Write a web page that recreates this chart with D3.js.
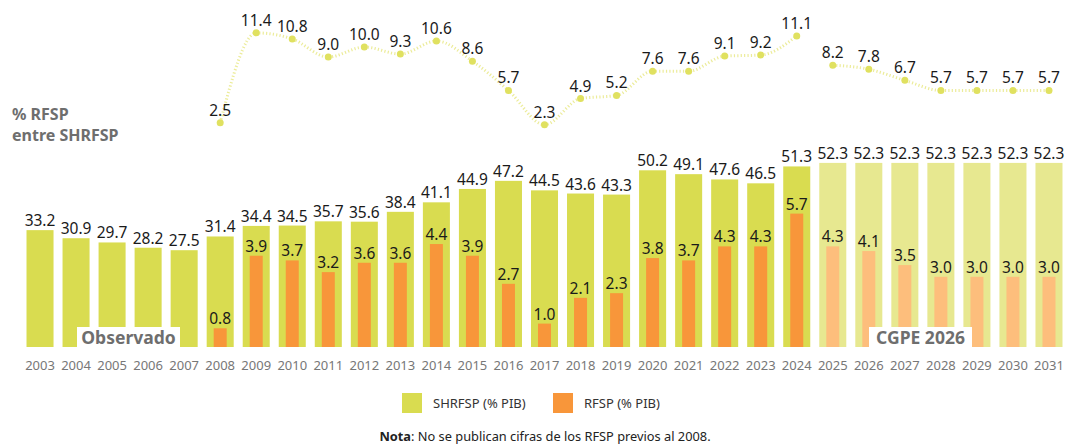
<!DOCTYPE html>
<html>
<head>
<meta charset="utf-8">
<script src="https://cdn.jsdelivr.net/npm/d3@7"></script>
<style>
  body { margin: 0; background: #fff; }
  svg { font-family: "Noto Sans", sans-serif; }
</style>
</head>
<body>
<script>
const years = ['2003','2004','2005','2006','2007','2008','2009','2010','2011','2012','2013','2014','2015','2016','2017','2018','2019','2020','2021','2022','2023','2024','2025','2026','2027','2028','2029','2030','2031'];
const shrfsp = [33.2,30.9,29.7,28.2,27.5,31.4,34.4,34.5,35.7,35.6,38.4,41.1,44.9,47.2,44.5,43.6,43.3,50.2,49.1,47.6,46.5,51.3,52.3,52.3,52.3,52.3,52.3,52.3,52.3];
const rfsp = [null,null,null,null,null,0.8,3.9,3.7,3.2,3.6,3.6,4.4,3.9,2.7,1.0,2.1,2.3,3.8,3.7,4.3,4.3,5.7,4.3,4.1,3.5,3.0,3.0,3.0,3.0];
const ratio = [null,null,null,null,null,2.5,11.4,10.8,9.0,10.0,9.3,10.6,8.6,5.7,2.3,4.9,5.2,7.6,7.6,9.1,9.2,11.1,8.2,7.8,6.7,5.7,5.7,5.7,5.7];
const firstProjected = '2025';

const width = 1070, height = 446;
const base = 347;

const svg = d3.select('body').append('svg')
  .attr('width', width)
  .attr('height', height);

let x = d3.scaleBand()
  .domain(years)
  .range([22, 1067])
  .paddingInner(0.25)
  .paddingOuter(0.125);

let yBar = d3.scaleLinear().domain([0, 60]).range([base, base - 211.2]);
let yRfsp = d3.scaleLinear().domain([0, 10]).range([base, base - 234]);
let yLine = d3.scaleLinear().domain([0, 12]).range([148, 148 - 121.2]);

const rows = years.map((y, i) => ({ year: y, s: shrfsp[i], r: rfsp[i], p: ratio[i], proj: +y >= +firstProjected }));

// SHRFSP bars
svg.append('g').selectAll('rect')
  .data(rows)
  .enter().append('rect')
  .attr('x', d => x(d.year))
  .attr('y', d => yBar(d.s))
  .attr('width', x.bandwidth())
  .attr('height', d => base - yBar(d.s))
  .attr('fill', d => d.proj ? '#e7e890' : '#d9dc50');

// RFSP bars
const rw = 13;
svg.append('g').selectAll('rect')
  .data(rows.filter(d => d.r != null))
  .enter().append('rect')
  .attr('x', d => x(d.year) + x.bandwidth() / 2 - rw / 2)
  .attr('y', d => yRfsp(d.r))
  .attr('width', rw)
  .attr('height', d => base - yRfsp(d.r))
  .attr('fill', d => d.proj ? '#fdbe7c' : '#f8963a');

// bar labels
svg.append('g').selectAll('text')
  .data(rows)
  .enter().append('text')
  .attr('x', d => x(d.year) + x.bandwidth() / 2)
  .attr('y', d => yBar(d.s) - 4)
  .attr('text-anchor', 'middle')
  .attr('font-size', 15.5)
  .attr('fill', '#1a1a1a')
  .text(d => d.s.toFixed(1));

svg.append('g').selectAll('text')
  .data(rows.filter(d => d.r != null))
  .enter().append('text')
  .attr('x', d => x(d.year) + x.bandwidth() / 2)
  .attr('y', d => yRfsp(d.r) - 4)
  .attr('text-anchor', 'middle')
  .attr('font-size', 15.5)
  .attr('fill', '#1a1a1a')
  .text(d => d.r.toFixed(1));

// boxes over the bars
const boxes = [
  { text: 'Observado', x0: 77, x1: 180 },
  { text: 'CGPE 2026', x0: 869, x1: 972 }
];
boxes.forEach(b => {
  svg.append('rect')
    .attr('x', b.x0).attr('y', 327)
    .attr('width', b.x1 - b.x0).attr('height', 20)
    .attr('fill', '#fff');
  svg.append('text')
    .attr('x', (b.x0 + b.x1) / 2).attr('y', 344)
    .attr('text-anchor', 'middle')
    .attr('font-size', 17.5).attr('font-weight', 'bold')
    .attr('fill', '#6e6e6e')
    .text(b.text);
});

// x axis labels
let xAxis = d3.axisBottom(x).tickSize(0).tickPadding(0);
let gx = svg.append('g')
  .attr('transform', `translate(0,${base + 14})`)
  .call(xAxis);
gx.select('.domain').remove();
gx.selectAll('text')
  .attr('font-size', 13)
  .attr('font-family', '"Noto Sans", sans-serif')
  .attr('fill', '#777');

// ratio line, broken between observed and projected
const cx = d => x(d.year) + x.bandwidth() / 2;
let line = d3.line()
  .defined(d => d.p != null)
  .curve(d3.curveMonotoneX)
  .x(cx)
  .y(d => yLine(d.p));

const obs = rows.filter(d => d.p != null && !d.proj);
const proj = rows.filter(d => d.p != null && d.proj);
[obs, proj].forEach(seg => {
  svg.append('path')
    .datum(seg)
    .attr('d', line)
    .attr('fill', 'none')
    .attr('stroke', '#ecec9a')
    .attr('stroke-width', 3)
    .attr('stroke-dasharray', '1.2,2.2');
});

const pts = rows.filter(d => d.p != null);
svg.append('g').selectAll('circle')
  .data(pts)
  .enter().append('circle')
  .attr('cx', cx)
  .attr('cy', d => yLine(d.p))
  .attr('r', 3.5)
  .attr('fill', '#e0e160');

svg.append('g').selectAll('text')
  .data(pts)
  .enter().append('text')
  .attr('x', cx)
  .attr('y', d => yLine(d.p) - 7)
  .attr('text-anchor', 'middle')
  .attr('font-size', 15.5)
  .attr('fill', '#1a1a1a')
  .text(d => d.p.toFixed(1));

// line title, two separate lines
const titleLines = ['% RFSP', 'entre SHRFSP'];
svg.append('g').selectAll('text')
  .data(titleLines)
  .enter().append('text')
  .attr('x', 12)
  .attr('y', (d, i) => 120 + i * 21)
  .attr('font-size', 16)
  .attr('font-weight', 'bold')
  .attr('fill', '#6e6e6e')
  .text(d => d);

// legend
const legend = [
  { label: 'SHRFSP (% PIB)', color: '#d9dc50', x: 402 },
  { label: 'RFSP (% PIB)', color: '#f8963a', x: 553 }
];
legend.forEach(l => {
  svg.append('rect')
    .attr('x', l.x).attr('y', 393)
    .attr('width', 20).attr('height', 20)
    .attr('fill', l.color);
  svg.append('text')
    .attr('x', l.x + 31).attr('y', 408)
    .attr('font-size', 13)
    .attr('fill', '#333')
    .text(l.label);
});

// note
let note = svg.append('text')
  .attr('x', 545).attr('y', 441)
  .attr('text-anchor', 'middle')
  .attr('font-size', 12.8)
  .attr('fill', '#222');
note.append('tspan').attr('font-weight', 'bold').text('Nota');
note.append('tspan').text(': No se publican cifras de los RFSP previos al 2008.');
</script>
</body>
</html>
